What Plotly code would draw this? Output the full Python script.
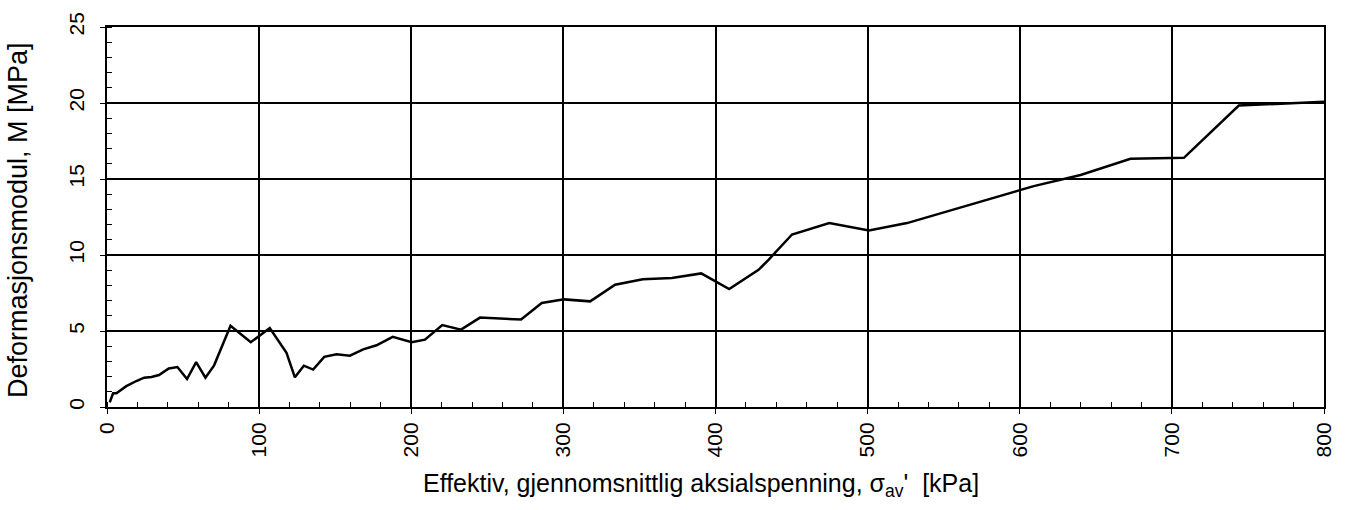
import plotly.graph_objects as go

stress_kpa = [1.8, 4.0, 6.2, 12.7, 19.3, 24.4, 29.2, 34.2, 40.6, 46.3, 52.6, 58.6, 64.7,
              70.4, 81.2, 94.5, 107.0, 118.0, 123.5, 129.4, 135.5, 142.8, 150.9, 159.7,
              168.4, 177.2, 187.8, 200.3, 209.0, 220.4, 232.7, 245.2, 272.2, 285.8,
              300.5, 317.6, 334.0, 352.2, 371.3, 390.6, 409.0, 428.3, 435.0, 450.3,
              474.8, 500.9, 525.9, 552.2, 600.5, 609.2, 640.0, 672.8, 707.9, 744.0, 800.0]
modulus_mpa = [0.3, 0.9, 0.9, 1.37, 1.71, 1.93, 1.97, 2.1, 2.53, 2.63, 1.84, 2.95, 1.93,
               2.74, 5.35, 4.26, 5.2, 3.57, 1.95, 2.72, 2.46, 3.3, 3.47, 3.38,
               3.79, 4.06, 4.62, 4.26, 4.43, 5.39, 5.09, 5.88, 5.75, 6.84,
               7.08, 6.95, 8.04, 8.4, 8.49, 8.79, 7.76, 9.02, 9.7, 11.35,
               12.1, 11.61, 12.1, 12.87, 14.26, 14.53, 15.26, 16.33, 16.39, 19.83, 20.08]

x_ticks = [0, 100, 200, 300, 400, 500, 600, 700, 800]
y_ticks = [0, 5, 10, 15, 20, 25]

FONT = "Liberation Sans, Arial, sans-serif"

fig = go.Figure()
fig.add_trace(go.Scatter(x=stress_kpa, y=modulus_mpa, mode="lines",
                         line=dict(color="black", width=2.5), showlegend=False))

axis_common = dict(
    showline=True, linecolor="black", linewidth=2, mirror=True,
    showgrid=True, gridcolor="black", gridwidth=2,
    ticks="outside", ticklen=5, tickcolor="black", tickwidth=1,
    tickangle=-90, zeroline=False,
    tickfont=dict(family=FONT, size=21, color="black"),
)

fig.update_xaxes(range=[0, 800], tickvals=x_ticks, ticktext=[str(v) for v in x_ticks],
                 minor=dict(dtick=20, ticks="inside", ticklen=5, tickcolor="black",
                            tickwidth=1, showgrid=False),
                 **axis_common)
fig.update_yaxes(range=[0, 25], tickvals=y_ticks, ticktext=[str(v) for v in y_ticks],
                 minor=dict(dtick=1, ticks="inside", ticklen=5, tickcolor="black",
                            tickwidth=1, showgrid=False),
                 ticklabelstandoff=8,
                 **axis_common)

fig.add_annotation(text="Effektiv, gjennomsnittlig aksialspenning, σ<sub>av</sub>'\u00a0 [kPa]",
                   xref="paper", yref="paper", x=0.5, y=-0.2, xanchor="center", yanchor="middle",
                   xshift=-15, yshift=-2, showarrow=False,
                   font=dict(family=FONT, size=25, color="black"))
fig.add_annotation(text="Deformasjonsmodul, M [MPa]",
                   xref="paper", yref="paper", x=0, y=0.5, xanchor="center", yanchor="middle",
                   xshift=-89, yshift=-3, textangle=-90, showarrow=False,
                   font=dict(family=FONT, size=27, color="black"))

fig.update_layout(
    width=1347, height=510, autosize=False,
    margin=dict(l=107, r=22, t=17, b=103, pad=0),
    paper_bgcolor="white", plot_bgcolor="white",
    font=dict(family=FONT, color="black"),
)

fig.write_html("out.html")
